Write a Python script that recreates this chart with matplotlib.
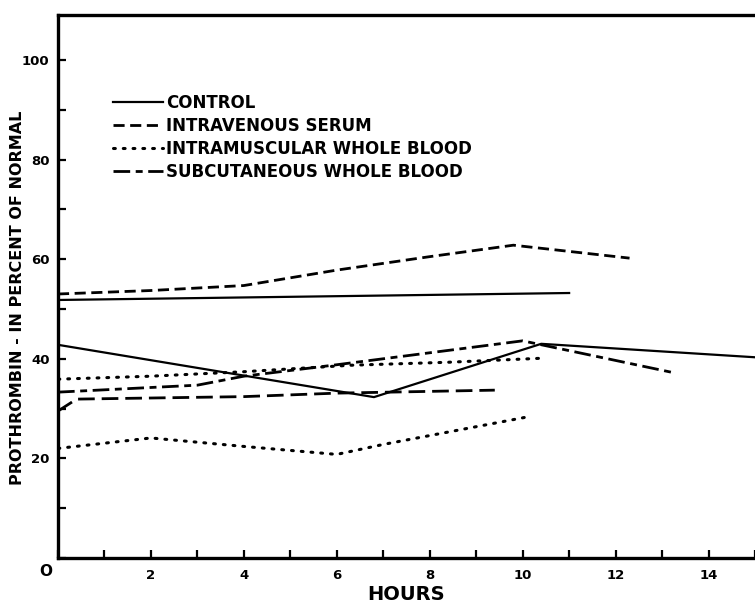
import matplotlib
matplotlib.use("Agg")
import matplotlib.pyplot as plt
from matplotlib.ticker import MultipleLocator

# control (two animals)
control_a_x = [0, 11]
control_a_y = [51.8, 53.2]
control_b_x = [0, 6.8, 10.4, 15]
control_b_y = [42.8, 32.3, 43.0, 40.3]

# intravenous serum
serum_a_x = [0, 2, 4, 6, 8, 9.8, 12.3]
serum_a_y = [53.0, 53.7, 54.7, 57.8, 60.5, 62.8, 60.2]
serum_b_x = [0, 0.4, 4, 6, 9.4]
serum_b_y = [29.5, 31.9, 32.4, 33.1, 33.7]

# intramuscular whole blood
im_a_x = [0, 2, 4, 6.3, 8.4, 10.4]
im_a_y = [35.9, 36.5, 37.4, 38.7, 39.3, 40.1]
im_b_x = [0, 2, 4, 6, 7, 10.2]
im_b_y = [22.0, 24.1, 22.4, 20.8, 22.8, 28.5]

# subcutaneous whole blood
sc_x = [0, 3, 4, 6, 8, 10, 13.3]
sc_y = [33.3, 34.7, 36.5, 38.8, 41.2, 43.6, 37.1]

plt.rcParams['font.family'] = ['DejaVu Sans']
plt.rcParams['font.weight'] = 'bold'

fig = plt.figure(figsize=(7.55, 6.07), dpi=100)
ax = fig.add_axes([0.0768, 0.0807, 0.9232, 0.8945])

lw = 1.6
solid = '-'
dashed = (0, (4, 2))
longdash = (0, (6, 2.5))
dotted = (0, (0.6, 2.6))
dashdot = (0, (6, 2, 2.5, 2))

ax.plot(control_a_x, control_a_y, color='black', lw=lw, ls=solid, label='CONTROL')
ax.plot(control_b_x, control_b_y, color='black', lw=lw, ls=solid)
ax.plot(serum_a_x, serum_a_y, color='black', lw=lw + 0.4, ls=dashed, label='INTRAVENOUS SERUM')
ax.plot(serum_b_x, serum_b_y, color='black', lw=lw + 0.4, ls=longdash)
ax.plot(im_a_x, im_a_y, color='black', lw=lw + 0.6, ls=dotted, dash_capstyle='round',
        label='INTRAMUSCULAR WHOLE BLOOD')
ax.plot(im_b_x, im_b_y, color='black', lw=lw + 0.6, ls=dotted, dash_capstyle='round')
ax.plot(sc_x, sc_y, color='black', lw=lw + 0.4, ls=dashdot, label='SUBCUTANEOUS WHOLE BLOOD')

ax.set_xlim(0, 15)
ax.set_ylim(0, 109)

for side in ['left', 'bottom', 'top']:
    ax.spines[side].set_linewidth(2.4)
ax.spines['right'].set_visible(False)

ax.xaxis.set_major_locator(MultipleLocator(2))
ax.xaxis.set_minor_locator(MultipleLocator(1))
ax.yaxis.set_major_locator(MultipleLocator(20))
ax.yaxis.set_minor_locator(MultipleLocator(10))
ax.tick_params(which='both', direction='in', width=1.6, length=6, labelsize=9.5)
ax.tick_params(axis='x', which='major', pad=8)
ax.tick_params(axis='y', which='major', pad=6)
ax.tick_params(top=False, right=False)

ax.set_xticks([2, 4, 6, 8, 10, 12, 14])
ax.set_yticks([20, 40, 60, 80, 100])
ax.annotate('O', xy=(0, 0), xytext=(-9, -10), textcoords='offset points',
            ha='center', va='center', fontsize=11, fontweight='bold')

ax.set_xlabel('HOURS', fontsize=14, fontweight='bold', labelpad=2)
ax.set_ylabel('PROTHROMBIN - IN PERCENT OF NORMAL', fontsize=11.5, fontweight='bold')
ax.yaxis.set_label_coords(-0.047, 0.48)

leg = ax.legend(loc='upper left', bbox_to_anchor=(0.079, 0.855), frameon=False,
                fontsize=12, handlelength=3.0, handletextpad=0.2,
                labelspacing=0.3, borderpad=0, borderaxespad=0)
for t in leg.get_texts():
    t.set_fontweight('bold')

fig.savefig('out.png', dpi=100)
